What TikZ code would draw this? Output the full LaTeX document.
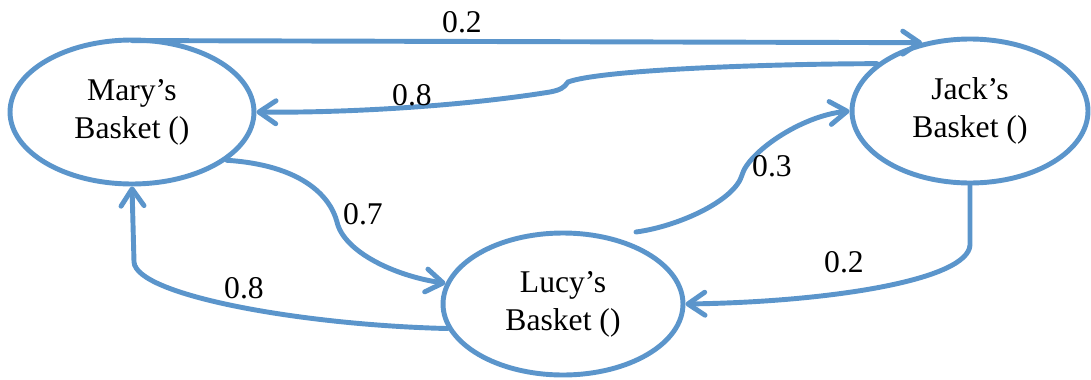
\documentclass[tikz,border=0pt]{standalone}
\usepackage{fontspec}
\setmainfont{Liberation Serif}
\usetikzlibrary{arrows.meta,shapes.geometric}
\definecolor{edgeblue}{HTML}{5B95CB}

\begin{document}
\begin{tikzpicture}[x=0.02cm,y=-0.02cm,>={Straight Barb[length=3.4mm,width=4.6mm,round]}]
\tikzset{basket/.style={ellipse,draw=edgeblue,line width=2.8pt,fill=white,minimum width=4.8cm,minimum height=2.88cm,inner sep=0pt,align=center,font=\fontsize{18}{21.5}\selectfont}, link/.style={->,draw=edgeblue,line width=2.8pt,line cap=round}, prob/.style={font=\fontsize{18}{21.5}\selectfont,inner sep=0pt}}
\useasboundingbox (0,0) rectangle (1091,379);
\node[basket,minimum width=4.88cm] (mary) at (132,112) {Mary’s\\Basket ()};
\node[basket,minimum width=4.72cm] (jack) at (970,111) {Jack’s\\Basket ()};
\node[basket,minimum height=2.84cm] (lucy) at (563,304) {Lucy’s\\Basket ()};
% transitions out of each basket
\draw[link] ([shift={(0,3)}]mary.north) -- (jack.125);
\draw[link] (jack.153) .. controls (760,64) and (600,70) .. (568,82) .. controls (564,88) and (560,90) .. (550,92) .. controls (450,108) and (330,113) .. (mary.east);
\draw[link] (mary.-27) .. controls (300,165) and (330,195) .. (337,222) .. controls (344,252) and (395,276) .. (lucy.170);
\draw[link] (lucy.192) .. controls (300,325) and (136,295) .. (134,262) -- (mary.south);
\draw[link] ([shift={(10,-9)}]lucy.45) .. controls (680,226) and (735,200) .. (742,175) .. controls (748,153) and (800,116) .. (jack.west);
\draw[link] (jack.south) -- (970,245) .. controls (968,280) and (830,302) .. (lucy.east);
\node[prob] (pmj) at (462,22) {0.2};
\node[prob] (pjm) at (412,95) {0.8};
\node[prob] (pml) at (363,214) {0.7};
\node[prob] (plm) at (244,288) {0.8};
\node[prob] (plj) at (772,166) {0.3};
\node[prob] (pjl) at (844,262) {0.2};
\end{tikzpicture}
\end{document}
